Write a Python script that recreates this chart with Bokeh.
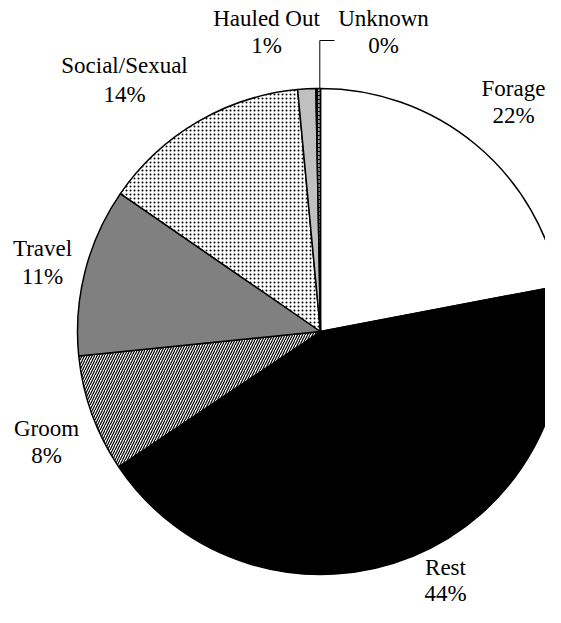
import numpy as np
from bokeh.plotting import figure
from bokeh.models import Range1d, ColumnDataSource
from bokeh.embed import file_html
from bokeh.resources import INLINE
from bokeh.core.properties import value

# ---- data ----
categories = ["Forage", "Rest", "Groom", "Travel", "Social/Sexual", "Hauled Out", "Unknown"]
shares = [22.0, 43.6, 7.8, 11.2, 13.9, 1.2, 0.3]
pct_labels = ["22%", "44%", "8%", "11%", "14%", "1%", "0%"]

# ---- styles ----
fills = ["white", "black", "white", "#808080", "white", "#c0c0c0", "black"]
hatches = ["blank", "blank", "right_diagonal_line", "blank", "dot", "blank", "vertical_dash"]
hatch_colors = ["black", "black", "black", "black", "black", "black", "white"]
hatch_scales = [4, 4, 5, 4, 4, 4, 4]

# label layout (reference pixel coords: center x, middle y of line 1 and line 2)
lab_x = [513, 445, 46, 42, 124, 266, 383]
lab_y1 = [88, 567, 428, 248, 65, 18, 18]
lab_y2 = [115, 593, 455, 276, 94, 45, 45]

W, H = 545, 607
PAGE_H = 623


def Y(v):
    return PAGE_H - np.asarray(v, dtype=float)


cx, cy, R = 320.0, Y(331.0), 243.0

frac = np.array(shares) / np.sum(shares)
cum_end = np.cumsum(frac)
cum_start = cum_end - frac
start_angle = np.pi / 2 - 2 * np.pi * cum_end
end_angle = np.pi / 2 - 2 * np.pi * cum_start

src = ColumnDataSource(dict(
    cat=categories, start=start_angle, end=end_angle, fill=fills,
    hatch=hatches, hcol=hatch_colors, hscale=hatch_scales,
))

p = figure(width=W, height=H, x_range=Range1d(0, W), y_range=Range1d(PAGE_H - H, PAGE_H),
           output_backend="svg", toolbar_location=None, min_border=0)
p.axis.visible = False
p.grid.visible = False
p.outline_line_color = None
p.background_fill_color = "white"

p.wedge(x=cx, y=cy, radius=R, start_angle="start", end_angle="end", source=src,
        fill_color="fill", line_color="black", line_width=1.5,
        hatch_pattern="hatch", hatch_color="hcol", hatch_scale="hscale", hatch_weight=1.2)

# leader line for Unknown
p.line(x=[319.3, 319.3, 334.0], y=Y([88, 40, 40]), line_color="black", line_width=1)

font = value("serif")
p.text(x=lab_x, y=Y(lab_y1), text=categories, text_font=font, text_font_size="23px",
       text_align="center", text_baseline="middle", text_color="black")
p.text(x=lab_x, y=Y(lab_y2), text=pct_labels, text_font=font, text_font_size="23px",
       text_align="center", text_baseline="middle", text_color="black")

open("out.html", "w").write(file_html(p, INLINE))
